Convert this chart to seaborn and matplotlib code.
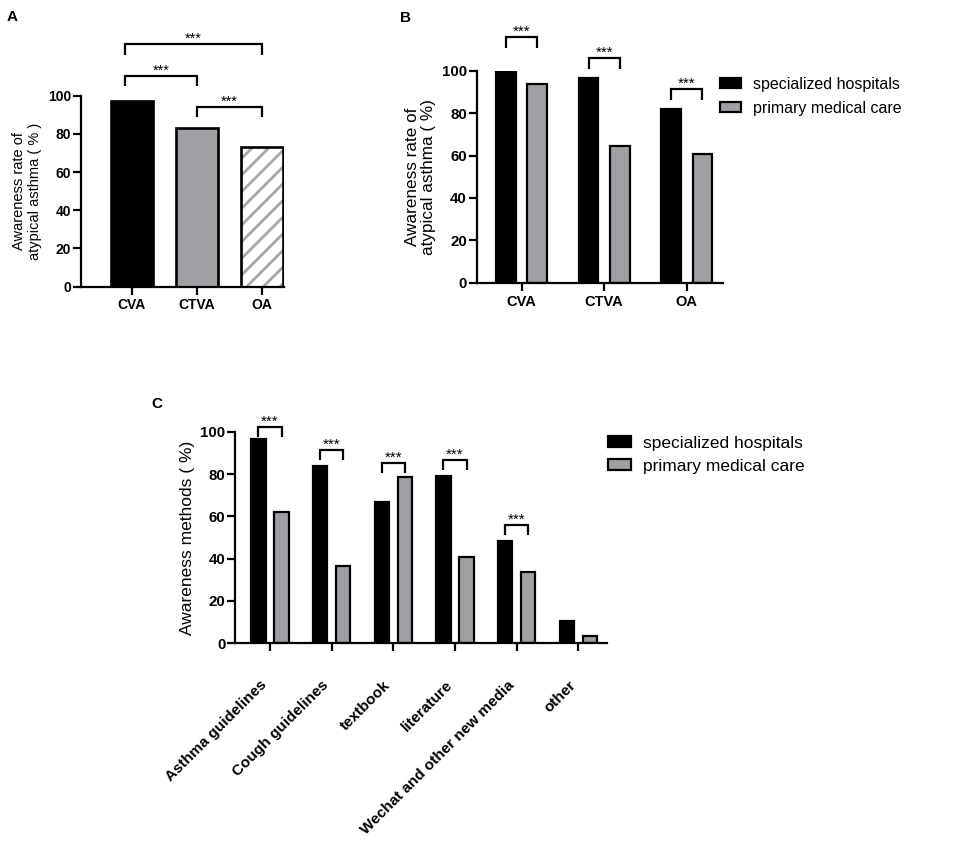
import matplotlib
matplotlib.use("Agg")
import matplotlib.pyplot as plt
import seaborn as sns
import pandas as pd
import numpy as np

# ---------------- data ----------------
cat_A = ["CVA", "CTVA", "OA"]
val_A = [97.4, 83.2, 73.3]
# significance brackets for panel A: (left idx, right idx)
pairs_A = [(0, 2), (0, 1), (1, 2)]
bracket_y_A = [127.0, 110.3, 94.0]

cat_B = ["CVA", "CTVA", "OA"]
spec_B = [99.4, 96.5, 81.9]
prim_B = [94.0, 64.6, 60.8]
bracket_y_B = [116.0, 106.0, 91.4]

cat_C = ["Asthma guidelines", "Cough guidelines", "textbook", "literature",
         "Wechat and other new media", "other"]
spec_C = [96.5, 83.9, 66.9, 79.2, 48.3, 10.5]
prim_C = [62.2, 36.7, 78.7, 40.6, 33.5, 3.6]
sig_C = [True, True, True, True, True, False]
bracket_y_C = [102.4, 91.3, 85.0, 86.6, 55.9, None]

groups = ["specialized hospitals", "primary medical care"]

# ---------------- style ----------------
sns.set_style("ticks")
plt.rcParams["font.family"] = ["Liberation Sans", "DejaVu Sans"]
plt.rcParams["hatch.linewidth"] = 2.0
for k in ["text.color", "axes.labelcolor", "xtick.color", "ytick.color",
          "axes.edgecolor"]:
    plt.rcParams[k] = "black"

BLACK = "#000000"
GRAY = "#a0a0a4"
HATCH_GRAY = "#a8a8a8"
LW = 1.6

fig = plt.figure(figsize=(9.57, 8.41), dpi=100)
axA = fig.add_axes([0.0846, 0.6591, 0.2121, 0.2271])
axB = fig.add_axes([0.4981, 0.6639, 0.2574, 0.2517])
axC = fig.add_axes([0.2456, 0.2351, 0.3884, 0.2516])


def style_axis(ax, ylabel, ylabel_size=10.5, ytick_size=10, linespacing=1.2):
    sns.despine(ax=ax)
    for s in ["left", "bottom"]:
        ax.spines[s].set_linewidth(1.6)
        ax.spines[s].set_color("black")
    ax.set_ylim(0, 100)
    ax.set_yticks([0, 20, 40, 60, 80, 100])
    ax.tick_params(axis="both", length=6, width=1.6, direction="out",
                   color="black", labelcolor="black")
    ax.tick_params(axis="y", pad=1)
    for lab in ax.get_yticklabels():
        lab.set_fontweight("bold")
        lab.set_fontsize(ytick_size)
    ax.set_ylabel(ylabel, fontsize=ylabel_size, labelpad=4,
                  linespacing=linespacing, color="black")
    ax.set_xlabel("")


def bracket(ax, x1, x2, y, leg, text="***", lw=1.6, fs=10):
    ax.plot([x1, x1, x2, x2], [y - leg, y, y, y - leg], color="black",
            lw=lw, clip_on=False, solid_capstyle="butt", solid_joinstyle="miter")
    ax.text((x1 + x2) / 2, y + 0.6, text, ha="center", va="baseline",
            fontsize=fs, clip_on=False, color="black")


# ---------------- Panel A ----------------
dfA = pd.DataFrame({"cat": cat_A, "val": val_A})
sns.barplot(data=dfA, x="cat", y="val", hue="cat", order=cat_A,
            palette=[BLACK, GRAY, "white"], width=0.645, legend=False,
            edgecolor="black", linewidth=LW * 1.2, ax=axA)
oa_patch = axA.patches[2]
oa_patch.set_facecolor("white")
oa_patch.set_edgecolor(HATCH_GRAY)
oa_patch.set_hatch("//")
oa_patch.set_linewidth(0)
axA.bar([2], [val_A[2]], width=0.645, fill=False, edgecolor="black",
        linewidth=LW * 1.2)
axA.set_xlim(-0.778, 2.338)
style_axis(axA, "Awareness rate of\natypical asthma ( % )", ylabel_size=10.5,
           ytick_size=10)
axA.tick_params(axis="x", pad=2)
for lab in axA.get_xticklabels():
    lab.set_fontweight("bold")
    lab.set_fontsize(10)
for (i, j), y, l in zip(pairs_A, bracket_y_A, [5.8, 5.0, 5.4]):
    bracket(axA, i - 0.1 if i == 0 else i, j, y, l, fs=10.5)

# ---------------- Panel B ----------------
dfB = pd.DataFrame({
    "cat": cat_B * 2,
    "val": spec_B + prim_B,
    "grp": [groups[0]] * 3 + [groups[1]] * 3,
})
sns.barplot(data=dfB, x="cat", y="val", hue="grp", order=cat_B,
            hue_order=groups, palette=[BLACK, GRAY], width=0.76, gap=0.37,
            edgecolor="black", linewidth=LW, ax=axB)
axB.set_xlim(-0.545, 2.44)
style_axis(axB, "Awareness rate of\natypical asthma ( %)", ylabel_size=12.3,
           ytick_size=10.8, linespacing=1.1)
axB.tick_params(axis="x", pad=3)
for lab in axB.get_xticklabels():
    lab.set_fontweight("bold")
    lab.set_fontsize(10.5)
for i, y in enumerate(bracket_y_B):
    bracket(axB, i - 0.19, i + 0.19, y, 5.0, fs=11)
axB.legend_.remove()
hB, lB = axB.get_legend_handles_labels()
fig.legend(hB, lB, loc="upper left", bbox_to_anchor=(0.752, 1 - 77 / 841),
           frameon=False, fontsize=11.5, handlelength=1.35, handleheight=0.6,
           handletextpad=0.75, labelspacing=0.55, borderpad=0, borderaxespad=0,
           labelcolor="black")

# ---------------- Panel C ----------------
dfC = pd.DataFrame({
    "cat": cat_C * 2,
    "val": spec_C + prim_C,
    "grp": [groups[0]] * 6 + [groups[1]] * 6,
})
sns.barplot(data=dfC, x="cat", y="val", hue="grp", order=cat_C,
            hue_order=groups, palette=[BLACK, GRAY], width=0.75, gap=0.38,
            edgecolor="black", linewidth=LW, ax=axC)
axC.set_xlim(-0.567, 5.46)
style_axis(axC, "Awareness methods ( %)", ylabel_size=12.5, ytick_size=10.8)
axC.tick_params(axis="x", pad=19)
for lab in axC.get_xticklabels():
    lab.set_fontweight("bold")
    lab.set_fontsize(11)
    lab.set_rotation(45)
    lab.set_ha("right")
    lab.set_va("top")
for i, (s, y) in enumerate(zip(sig_C, bracket_y_C)):
    if s:
        bracket(axC, i - 0.19, i + 0.19, y, 4.7, fs=11)
axC.legend_.remove()
hC, lC = axC.get_legend_handles_labels()
fig.legend(hC, lC, loc="upper left", bbox_to_anchor=(608 / 957, 1 - 436 / 841),
           frameon=False, fontsize=12.5, handlelength=1.35, handleheight=0.6,
           handletextpad=0.65, labelspacing=0.45, borderpad=0, borderaxespad=0,
           labelcolor="black")

# ---------------- panel letters ----------------
fig.text(7 / 957, 1 - 10 / 841, "A", fontsize=11, fontweight="bold", va="top")
fig.text(400 / 957, 1 - 11 / 841, "B", fontsize=11, fontweight="bold", va="top")
fig.text(151 / 957, 1 - 397 / 841, "C", fontsize=11, fontweight="bold", va="top")

fig.savefig("out.png", dpi=100)
